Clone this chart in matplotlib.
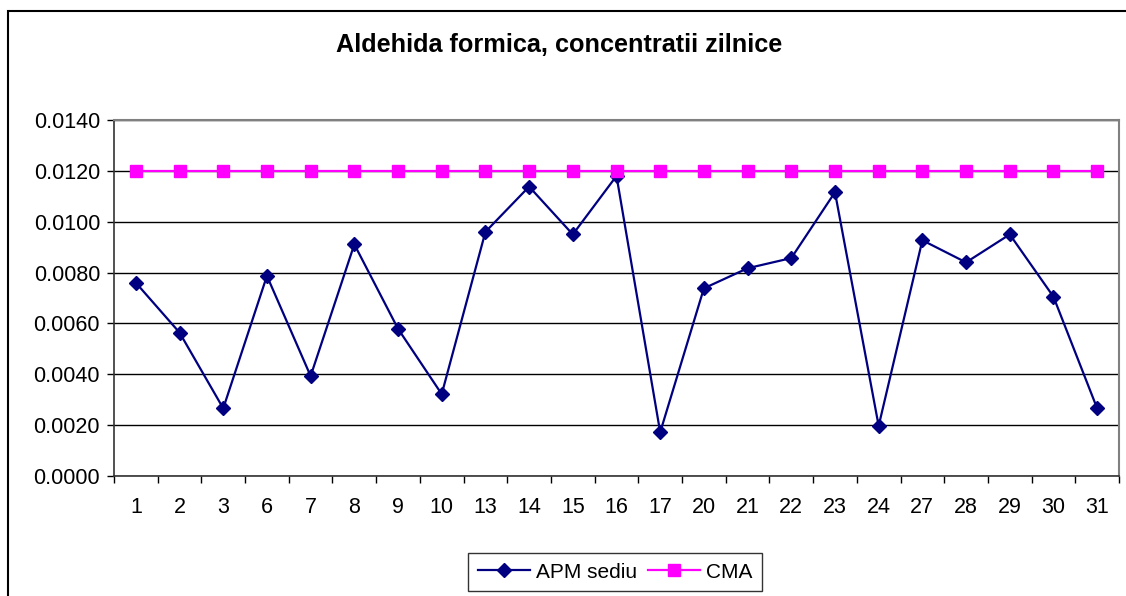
import numpy as np
import matplotlib
matplotlib.use("Agg")
from matplotlib import pyplot as plt
from matplotlib.patches import Rectangle

plt.rcParams['font.family'] = ['Liberation Sans', 'DejaVu Sans']

days = ['1', '2', '3', '6', '7', '8', '9', '10', '13', '14', '15', '16', '17',
        '20', '21', '22', '23', '24', '27', '28', '29', '30', '31']
apm_sediu = [0.0076, 0.00564, 0.00266, 0.00787, 0.00393, 0.00911, 0.00579,
             0.00322, 0.0096, 0.01138, 0.0095, 0.0118, 0.00172, 0.00738,
             0.00817, 0.00857, 0.01116, 0.00197, 0.00927, 0.0084, 0.0095,
             0.00705, 0.00266]
cma = [0.012] * len(days)

fig = plt.figure(figsize=(11.26, 5.96), dpi=100)
W, H = 1126, 596

# outer chart border (left and top visible)
fig.patches.append(Rectangle((8 / W, -0.1), 1.2, 1 - 11 / H + 0.1,
                             transform=fig.transFigure, fill=False,
                             edgecolor='black', linewidth=1.5))

ax = fig.add_axes([114 / W, 1 - 476 / H, (1119 - 114) / W, (476 - 120) / H])
x = np.arange(len(days))

ax.plot(x, apm_sediu, color='#000080', linewidth=1.6, marker='D',
        markersize=7, label='APM sediu')
ax.plot(x, cma, color='#FF00FF', linewidth=1.6, marker='s',
        markersize=8, label='CMA')

ax.set_xlim(-0.5, len(days) - 0.5)
ax.set_ylim(0, 0.014)
ax.set_yticks(np.arange(0, 0.0141, 0.002))
ax.yaxis.set_major_formatter(matplotlib.ticker.FormatStrFormatter('%.4f'))
ax.grid(axis='y', color='black', linewidth=1)
ax.set_axisbelow(True)

ax.set_xticks(x)
ax.set_xticklabels(days)
ax.set_xticks(np.arange(-0.5, len(days), 1), minor=True)
ax.tick_params(axis='x', which='major', length=0, pad=15, labelsize=15.5)
ax.tick_params(axis='x', which='minor', length=5, width=1, direction='out')
ax.tick_params(axis='y', length=5, width=1, direction='out', labelsize=15.5, pad=5)

for side in ['top', 'right']:
    ax.spines[side].set_color('#808080')
    ax.spines[side].set_linewidth(1.5)
for side in ['left', 'bottom']:
    ax.spines[side].set_color('#333333')
    ax.spines[side].set_linewidth(1.2)

fig.text(559 / W, 1 - 45 / H, 'Aldehida formica, concentratii zilnice',
         ha='center', va='center', fontsize=18.2, fontweight='bold')

leg = fig.legend(loc='center', bbox_to_anchor=(615 / W, 1 - 572 / H),
                 ncol=2, fontsize=15, frameon=True, fancybox=False,
                 edgecolor='black', handlelength=2.5, columnspacing=0.5,
                 handletextpad=0.3, borderpad=0.45)
leg.get_frame().set_linewidth(1)

fig.savefig('out.png', dpi=100)
